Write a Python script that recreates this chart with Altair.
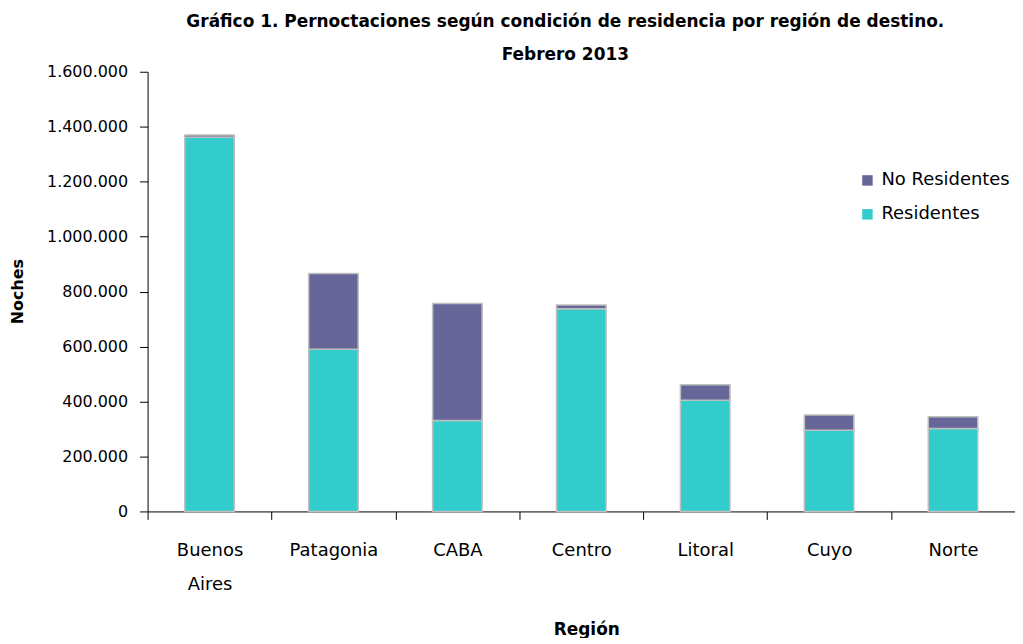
import altair as alt
import pandas as pd

regiones = ["Buenos Aires", "Patagonia", "CABA", "Centro", "Litoral", "Cuyo", "Norte"]
residentes = [1362000, 590000, 331000, 738000, 405000, 295000, 302000]
no_residentes = [8000, 276000, 426000, 13000, 56000, 56000, 43000]
series = ["No Residentes", "Residentes"]
colores = ["#666699", "#33CCCC"]

rows = []
for r, a, b in zip(regiones, residentes, no_residentes):
    rows.append({"Region": r, "Serie": "Residentes", "Noches": a, "orden": 0})
    rows.append({"Region": r, "Serie": "No Residentes", "Noches": b, "orden": 1})
df = pd.DataFrame(rows)

FONT = "DejaVu Sans"

chart = alt.Chart(df).mark_bar(stroke="#C0C0C0", strokeWidth=1.5,
                               width=alt.RelativeBandSize(0.4)).encode(
    x=alt.X("Region:N", sort=regiones,
            scale=alt.Scale(paddingInner=0, paddingOuter=0),
            axis=alt.Axis(title="Región", labelAngle=0, tickBand="extent",
                          labelExpr="datum.label == 'Buenos Aires' ? ['Buenos', 'Aires'] : datum.label",
                          labelFontSize=18, labelLineHeight=34, labelBaseline="top",
                          labelPadding=22, tickSize=8, tickColor="#000000",
                          domainColor="#000000", labelColor="#000000",
                          titleFontSize=17, titleFontWeight="bold", titleY=118,
                          titleX=440,
                          titleBaseline="middle", labelFont=FONT, titleFont=FONT)),
    y=alt.Y("Noches:Q", stack="zero",
            scale=alt.Scale(domain=[0, 1600000], nice=False),
            axis=alt.Axis(title="Noches", values=list(range(0, 1600001, 200000)),
                          labelExpr="replace(format(datum.value, ',d'), /,/g, '.')",
                          grid=False, tickSize=8, tickColor="#000000",
                          domainColor="#000000", labelColor="#000000",
                          labelFontSize=16, labelPadding=12,
                          titleFontSize=16, titleFontWeight="bold",
                          titleX=-130, titleY=220, titleBaseline="middle",
                          labelFont=FONT, titleFont=FONT)),
    color=alt.Color("Serie:N", scale=alt.Scale(domain=series, range=colores),
                    legend=alt.Legend(title=None, orient="none", legendX=713, legendY=100,
                                      symbolType="square", symbolSize=110,
                                      symbolStrokeWidth=0, labelFontSize=18,
                                      labelFont=FONT, rowPadding=16, labelOffset=5)),
    order=alt.Order("orden:Q"),
).properties(
    width=870, height=441,
    autosize=alt.AutoSizeParams(type="none"),
    padding={"left": 140, "top": 63, "right": 0, "bottom": 126},
    title=alt.TitleParams(
        text=["Gráfico 1. Pernoctaciones según condición de residencia por región de destino.",
              "Febrero 2013"],
        fontSize=17, fontWeight="bold", font=FONT, lineHeight=33,
        anchor="middle", dx=-16, offset=0, color="#000000"),
).configure(background="white").configure_view(stroke=None)

chart.save("out.html", embed_options={"renderer": "svg", "actions": False})
